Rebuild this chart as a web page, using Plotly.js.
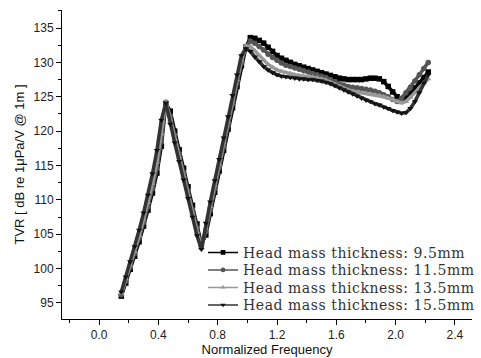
<!DOCTYPE html>
<html>
<head>
<meta charset="utf-8">
<script src="https://cdn.plot.ly/plotly-3.0.1.min.js"></script>
<style>html,body{margin:0;padding:0;background:#fff;}#chart{width:481px;height:358px;}
.legendtext{letter-spacing:0.55px;}</style>
</head>
<body>
<div id="chart"></div>
<script>
const freq = [0.15,0.18,0.21,0.24,0.27,0.30,0.33,0.36,0.39,0.42,0.45,0.48,0.51,0.54,0.57,0.60,0.63,0.66,0.69,0.72,0.75,0.78,0.81,0.84,0.87,0.90,0.93,0.96,0.99,1.02,1.05,1.08,1.11,1.14,1.17,1.20,1.23,1.26,1.29,1.32,1.35,1.38,1.41,1.44,1.47,1.50,1.53,1.56,1.59,1.62,1.65,1.68,1.71,1.74,1.77,1.80,1.83,1.86,1.89,1.92,1.95,1.98,2.01,2.04,2.07,2.10,2.13,2.16,2.19,2.22];

const tvr95 = [96.0,97.9,99.9,101.8,103.9,106.2,108.5,111.0,113.9,117.8,124.0,122.9,120.0,117.3,114.6,111.9,109.2,106.5,103.6,104.9,108.0,111.1,114.2,117.2,120.3,123.4,126.5,129.5,132.2,133.6,133.5,133.2,132.8,132.2,131.6,131.0,130.6,130.3,130.0,129.7,129.5,129.3,129.1,128.9,128.7,128.5,128.3,128.1,127.9,127.7,127.6,127.5,127.5,127.5,127.5,127.6,127.7,127.7,127.6,127.2,126.5,125.7,125.0,124.6,124.8,125.5,126.3,127.0,127.8,128.6];

const tvr115 = [96.2,98.2,100.2,102.2,104.4,106.7,109.0,111.6,114.6,118.6,124.2,122.2,119.4,116.7,114.0,111.3,108.6,105.9,103.2,105.4,108.5,111.6,114.7,117.7,120.8,123.9,127.0,129.9,132.3,133.1,132.8,132.3,131.8,131.2,130.7,130.3,129.9,129.6,129.4,129.2,129.0,128.8,128.6,128.4,128.2,128.0,127.8,127.5,127.2,126.9,126.7,126.5,126.4,126.3,126.2,126.1,126.0,125.8,125.6,125.3,125.0,124.6,124.3,124.8,125.6,126.4,127.3,128.2,129.1,130.0];

const tvr135 = [96.4,98.5,100.5,102.5,104.8,107.2,109.6,112.4,115.5,119.6,124.3,121.7,118.9,116.2,113.5,110.8,108.1,105.4,103.0,105.9,109.0,112.1,115.2,118.3,121.3,124.4,127.5,130.4,132.4,132.3,131.7,131.0,130.3,129.7,129.3,128.9,128.7,128.5,128.4,128.2,128.1,128.0,127.9,127.9,127.8,127.6,127.4,127.1,126.8,126.5,126.2,126.0,125.8,125.7,125.6,125.5,125.4,125.3,125.2,125.0,124.8,124.6,124.3,124.1,124.3,124.9,125.6,126.3,127.0,127.6];

const tvr155 = [96.6,98.8,101.0,103.2,105.6,108.1,110.7,113.8,117.2,121.6,124.1,121.0,118.3,115.6,112.9,110.2,107.5,104.8,102.8,106.6,109.7,112.8,115.9,119.0,122.1,125.2,128.2,131.0,132.0,131.6,130.8,130.1,129.4,128.9,128.5,128.2,128.0,127.9,127.8,127.7,127.6,127.6,127.5,127.5,127.4,127.3,127.1,126.9,126.6,126.3,126.0,125.7,125.4,125.1,124.8,124.5,124.3,124.0,123.8,123.5,123.3,123.0,122.8,122.6,122.7,123.3,124.3,125.6,127.0,128.2];

const seriesNames = ["Head mass thickness: 9.5mm","Head mass thickness: 11.5mm","Head mass thickness: 13.5mm","Head mass thickness: 15.5mm"];
const seriesY = [tvr95, tvr115, tvr135, tvr155];
const lineColors = ["#000000","#555555","#999999","#333333"];
const markerColors = ["#000000","#555555","#999999","#111111"];
const symbols = ["square","circle","triangle-up","triangle-down"];

const traces = seriesY.map((y,i)=>({
  x: freq, y: y, type:"scatter", mode:"lines+markers", name: seriesNames[i],
  line:{color:lineColors[i], width:3.5},
  marker:{symbol:symbols[i], size:5.5, color:markerColors[i]}
}));

const axisFont = {family:"Liberation Sans, Arial, sans-serif", size:12, color:"#222"};
const layout = {
  width:481, height:358,
  margin:{l:62, r:9, t:10, b:39, autoexpand:false},
  paper_bgcolor:"#fff", plot_bgcolor:"#fff",
  showlegend:true,
  xaxis:{range:[-0.25,2.515], tick0:0, dtick:0.4, tickformat:".1f",
    ticks:"outside", ticklen:5, tickcolor:"#000", showline:true, linecolor:"#000", linewidth:1,
    showgrid:false, zeroline:false, tickfont:axisFont, automargin:false,
    minor:{dtick:0.2, tick0:0, ticks:"outside", ticklen:3, tickcolor:"#000"},
    title:{text:"Normalized Frequency", font:{family:"Liberation Sans, Arial, sans-serif", size:13, color:"#111"}, standoff:2}},
  yaxis:{range:[92.67,137.62], tick0:95, dtick:5,
    ticks:"outside", ticklen:5, tickcolor:"#000", showline:true, linecolor:"#000", linewidth:1,
    showgrid:false, zeroline:false, tickfont:axisFont, automargin:false,
    minor:{dtick:2.5, tick0:95, ticks:"outside", ticklen:3, tickcolor:"#000"},
    title:{text:"TVR [ dB re 1μPa/V @ 1m ]", font:{family:"Liberation Sans, Arial, sans-serif", size:13, color:"#111"}, standoff:6}},
  legend:{x:0.344, y:0.266, xanchor:"left", yanchor:"top", bgcolor:"rgba(0,0,0,0)",
    font:{family:"DejaVu Serif, serif", size:14, color:"#333"}, tracegroupgap:0}
};
Plotly.newPlot("chart", traces, layout, {displayModeBar:false, staticPlot:true}).then(gd=>{
  const items = gd.querySelectorAll(".legend .traces");
  let y0 = null;
  items.forEach((g,i)=>{
    const t = g.getAttribute("transform") || "";
    const m = t.match(/translate\(\s*([-\d.]+)[ ,]+([-\d.]+)\s*\)/);
    if(!m) return;
    const xx = parseFloat(m[1]), yy = parseFloat(m[2]);
    if(y0 === null) y0 = yy;
    g.setAttribute("transform", "translate(" + xx + "," + (y0 + i*17.5) + ")");
  });
  gd.querySelectorAll(".legend .legendlines path").forEach(p=>{ p.style.strokeWidth = "1.5px"; });
  gd.querySelectorAll(".legend .legendpoints path").forEach(p=>{ p.setAttribute("transform", (p.getAttribute("transform")||"") + " scale(0.85)"); });
});
</script>
</body>
</html>
